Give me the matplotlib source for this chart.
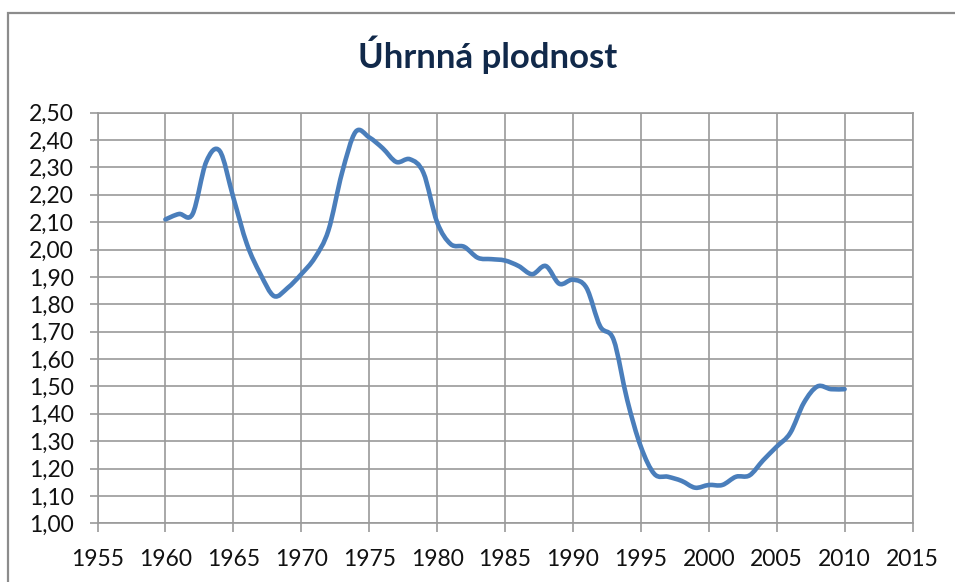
import matplotlib
matplotlib.use("Agg")
import matplotlib.pyplot as plt
from matplotlib.path import Path
from matplotlib.patches import PathPatch, Rectangle
import numpy as np

years = list(range(1960, 2011))
tfr = [2.11, 2.13, 2.13, 2.32, 2.36, 2.19, 2.02, 1.91, 1.83, 1.86,
       1.91, 1.97, 2.07, 2.28, 2.43, 2.41, 2.37, 2.32, 2.33, 2.28,
       2.10, 2.02, 2.01, 1.97, 1.965, 1.96, 1.94, 1.91, 1.94, 1.875,
       1.89, 1.86, 1.72, 1.67, 1.45, 1.28, 1.18, 1.17, 1.155, 1.13,
       1.14, 1.14, 1.17, 1.175, 1.23, 1.28, 1.33, 1.44, 1.50, 1.49,
       1.49]
title = "Úhrnná plodnost"
x_ticks = list(range(1955, 2016, 5))
y_ticks = [round(1.0 + 0.1 * i, 2) for i in range(16)]
y_tick_labels = [f"{v:.2f}".replace(".", ",") for v in y_ticks]

W, H = 955, 582
fig = plt.figure(figsize=(W / 100, H / 100), dpi=100)
fig.patch.set_facecolor("white")

# chart frame
fig.patches.append(Rectangle((8 / W, -0.1), 1.2, 1 - 13 / H + 0.1,
                             transform=fig.transFigure, fill=False,
                             edgecolor="#8c8c8c", linewidth=1.6))

left, right, top, bottom = 97.5 / W, 912.5 / W, 1 - 112.7 / H, 1 - 523.3 / H
ax = fig.add_axes([left, bottom, right - left, top - bottom])
ax.set_xlim(1955, 2015)
ax.set_ylim(1.0, 2.5)

# smooth line (Excel-style Catmull-Rom Bezier)
pts = np.column_stack([years, tfr]).astype(float)
n = len(pts)
verts = [tuple(pts[0])]
codes = [Path.MOVETO]
for i in range(n - 1):
    p0 = pts[i - 1] if i > 0 else pts[i]
    p1 = pts[i]
    p2 = pts[i + 1]
    p3 = pts[i + 2] if i + 2 < n else pts[i + 1]
    c1 = p1 + (p2 - p0) / 6.0
    c2 = p2 - (p3 - p1) / 6.0
    verts += [tuple(c1), tuple(c2), tuple(p2)]
    codes += [Path.CURVE4] * 3
ax.add_patch(PathPatch(Path(verts, codes), facecolor="none",
                       edgecolor="#4a7ebb", linewidth=3.3,
                       capstyle="round", joinstyle="round", zorder=3))

grid_c = "#9a9a9a"
ax.set_xticks(x_ticks)
ax.set_yticks(y_ticks)
ax.set_yticklabels(y_tick_labels)
ax.grid(True, color=grid_c, linewidth=1.2)
ax.set_axisbelow(True)
for s in ax.spines.values():
    s.set_color(grid_c)
    s.set_linewidth(1.2)
ax.tick_params(axis="x", direction="out", length=6.5, width=1.2, color=grid_c,
               pad=12, labelsize=16.5, labelcolor="#111111")
ax.tick_params(axis="y", direction="out", length=6, width=1.2, color=grid_c,
               pad=11, labelsize=16.5, labelcolor="#111111")
for lab in ax.get_xticklabels() + ax.get_yticklabels():
    lab.set_family("Lato")

fig.text(488 / W, 1 - 68 / H, title, ha="center", va="baseline",
         fontsize=25, fontweight="bold", color="#11294a", family="Lato")

fig.savefig("out.png", dpi=100)
